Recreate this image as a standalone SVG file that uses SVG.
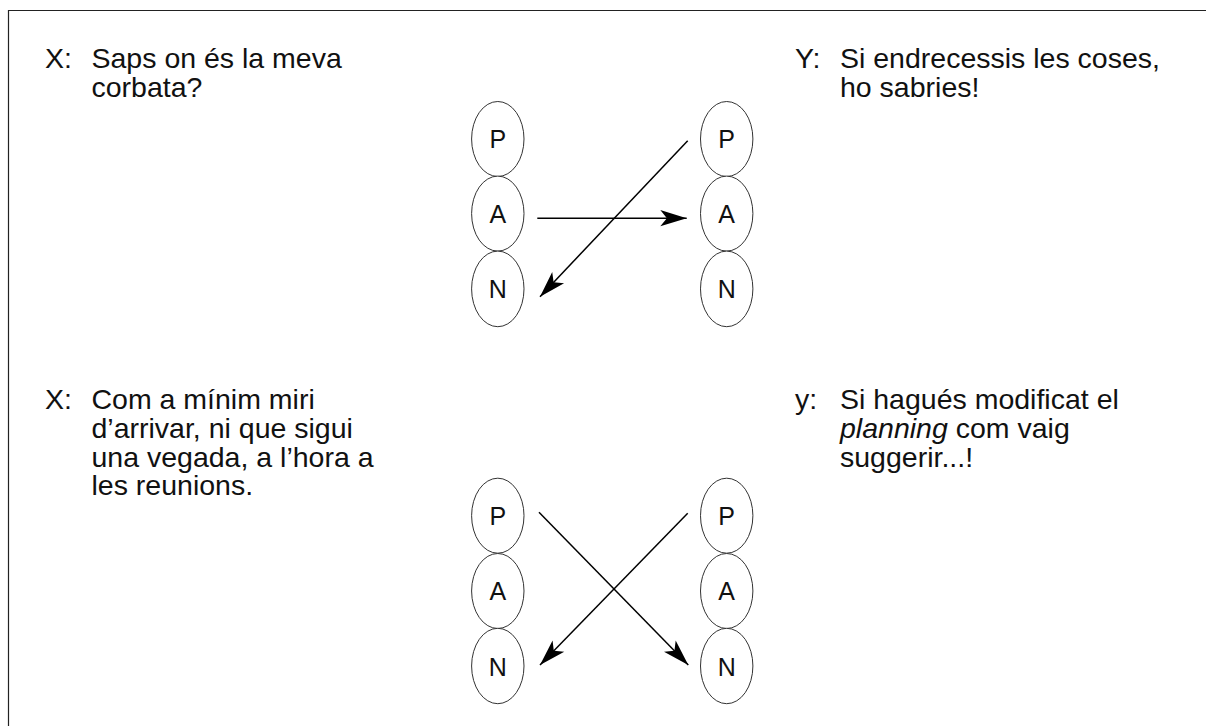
<svg xmlns="http://www.w3.org/2000/svg" width="1206" height="726" viewBox="0 0 1206 726">
<defs>
<style>
.txt{font-family:"Liberation Sans",Arial,sans-serif;font-size:28.5px;fill:#111}
.lbl{font-family:"Liberation Sans",Arial,sans-serif;font-size:25px;fill:#111;text-anchor:middle}
.node ellipse{fill:#fff;stroke:#333;stroke-width:1}
.conn line{stroke:#000;stroke-width:1.5;fill:none}
.frame{stroke:#222;stroke-width:1.2;fill:none}
</style>
<marker id="ah" markerUnits="userSpaceOnUse" markerWidth="30" markerHeight="20" viewBox="-23 -8 25 16" refX="0" refY="0" orient="auto">
<path d="M0,0 L-22,-6.8 L-16.5,0 L-22,6.8 Z" fill="#000"/>
</marker>
</defs>
<rect width="1206" height="726" fill="#fff"/>
<path class="frame" d="M8.5,726 V10.5 H1206"/>

<g id="text-x1">
<text class="txt" x="45" y="68">X:</text>
<text class="txt" x="91.5" y="68">Saps on és la meva</text>
<text class="txt" x="91.5" y="96.5">corbata?</text>
</g>
<g id="text-y1">
<text class="txt" x="795" y="68">Y:</text>
<text class="txt" x="840" y="68">Si endrecessis les coses,</text>
<text class="txt" x="840" y="96.5">ho sabries!</text>
</g>
<g id="text-x2">
<text class="txt" x="45" y="409.3">X:</text>
<text class="txt" x="91.5" y="409.3">Com a mínim miri</text>
<text class="txt" x="91.5" y="438">d’arrivar, ni que sigui</text>
<text class="txt" x="91.5" y="466.6">una vegada, a l’hora a</text>
<text class="txt" x="91.5" y="495.2">les reunions.</text>
</g>
<g id="text-y2">
<text class="txt" x="795" y="409.3">y:</text>
<text class="txt" x="840" y="409.3">Si hagués modificat el</text>
<text class="txt" x="840" y="438"><tspan font-style="italic">planning</tspan> com vaig</text>
<text class="txt" x="840" y="466.6">suggerir...!</text>
</g>

<g id="top-left-P" class="node"><ellipse cx="497.8" cy="139" rx="26.2" ry="37.5"/><text class="lbl" x="497.8" y="148.3">P</text></g>
<g id="top-left-A" class="node"><ellipse cx="497.8" cy="213.6" rx="26.2" ry="37.5"/><text class="lbl" x="497.8" y="222.9">A</text></g>
<g id="top-left-N" class="node"><ellipse cx="497.8" cy="288.9" rx="26.2" ry="37.8"/><text class="lbl" x="497.8" y="298.2">N</text></g>
<g id="top-right-P" class="node"><ellipse cx="726.7" cy="139" rx="26.2" ry="37.5"/><text class="lbl" x="726.7" y="148.3">P</text></g>
<g id="top-right-A" class="node"><ellipse cx="726.7" cy="213.6" rx="26.2" ry="37.5"/><text class="lbl" x="726.7" y="222.9">A</text></g>
<g id="top-right-N" class="node"><ellipse cx="726.7" cy="288.9" rx="26.2" ry="37.8"/><text class="lbl" x="726.7" y="298.2">N</text></g>

<g id="bot-left-P" class="node"><ellipse cx="497.8" cy="515.7" rx="26.2" ry="37.5"/><text class="lbl" x="497.8" y="525.2">P</text></g>
<g id="bot-left-A" class="node"><ellipse cx="497.8" cy="591" rx="26.2" ry="37.5"/><text class="lbl" x="497.8" y="600.4">A</text></g>
<g id="bot-left-N" class="node"><ellipse cx="497.8" cy="666" rx="26.2" ry="37.7"/><text class="lbl" x="497.8" y="675.5">N</text></g>
<g id="bot-right-P" class="node"><ellipse cx="726.7" cy="515.7" rx="26.2" ry="37.5"/><text class="lbl" x="726.7" y="525.2">P</text></g>
<g id="bot-right-A" class="node"><ellipse cx="726.7" cy="591" rx="26.2" ry="37.5"/><text class="lbl" x="726.7" y="600.4">A</text></g>
<g id="bot-right-N" class="node"><ellipse cx="726.7" cy="666" rx="26.2" ry="37.7"/><text class="lbl" x="726.7" y="675.5">N</text></g>

<g id="connectors" class="conn">
<line x1="537.3" y1="218.2" x2="686.7" y2="218.2" marker-end="url(#ah)"/>
<line x1="687.7" y1="140.7" x2="540" y2="296.7" marker-end="url(#ah)"/>
<line x1="539" y1="512.3" x2="688.3" y2="665" marker-end="url(#ah)"/>
<line x1="687.7" y1="513.3" x2="540" y2="665" marker-end="url(#ah)"/>
</g>
</svg>
